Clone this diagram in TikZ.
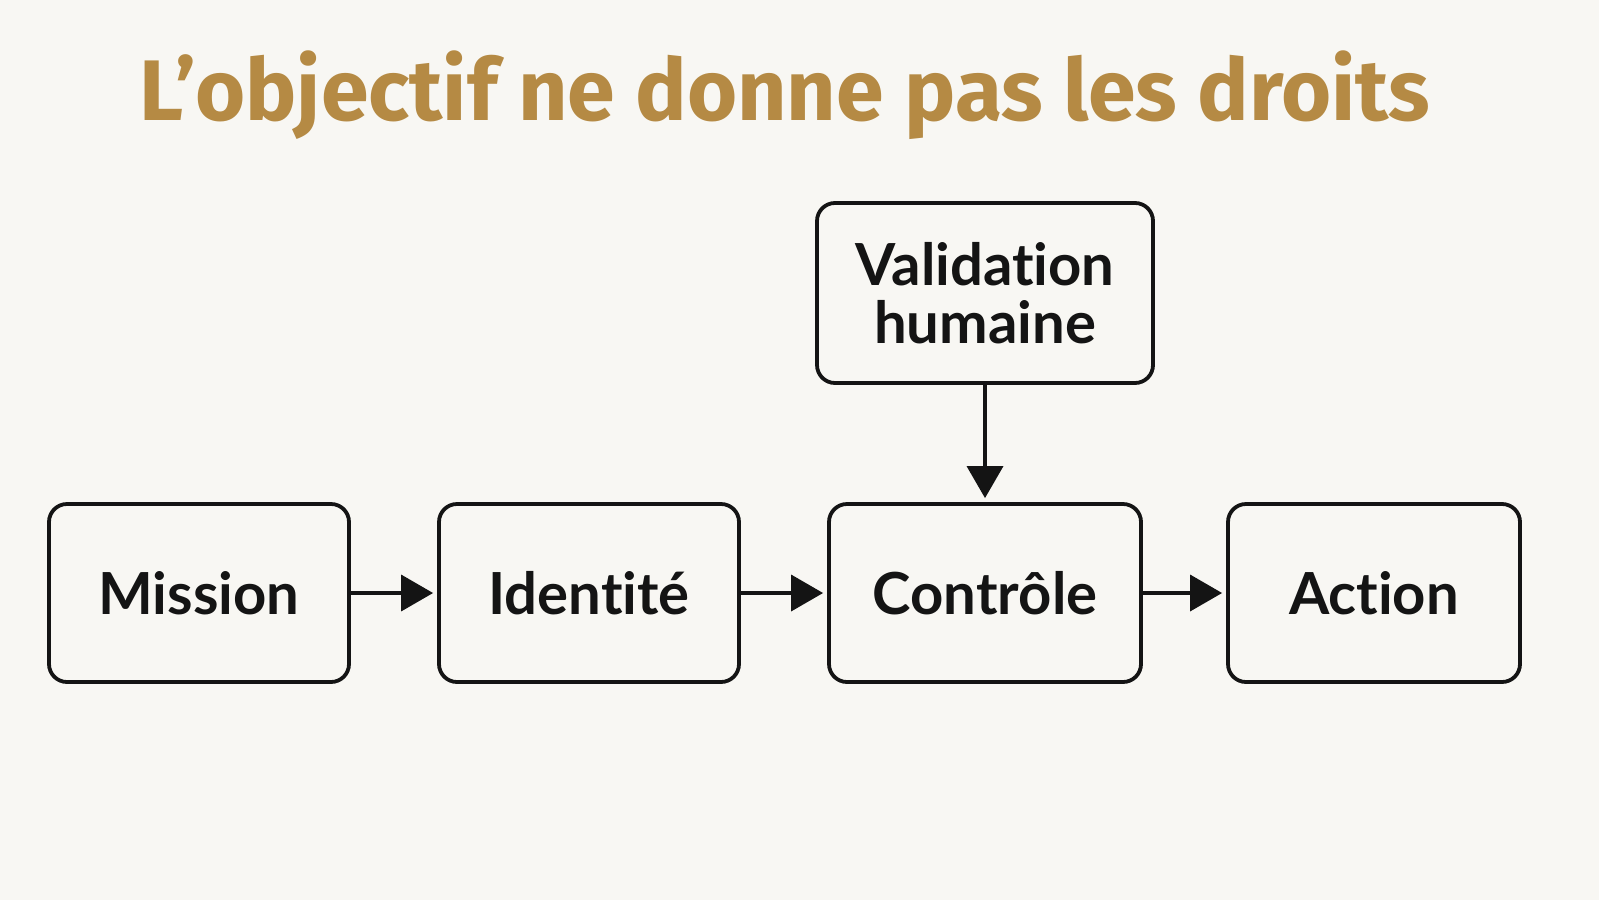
\documentclass[tikz,border=0pt]{standalone}
\usepackage{fontspec}
\setmainfont[Ligatures=NoCommon]{Lato}
\newfontfamily\titlefont[Ligatures=NoCommon]{Fira Sans}
\usetikzlibrary{arrows.meta}
\definecolor{bgcol}{HTML}{F8F7F3}
\definecolor{titlecol}{HTML}{B58A44}
\definecolor{inkcol}{HTML}{141414}

\tikzset{
  etape/.style={draw=inkcol,line width=1.9pt,rounded corners=9pt,fill=bgcol,
    inner sep=0,align=center,text=inkcol,font=\fontsize{29}{29}\selectfont\bfseries},
  fleche/.style={draw=inkcol,line width=1.8pt,-{Triangle[length=16pt,width=18pt]},shorten >=2pt}
}

\begin{document}
\begin{tikzpicture}[x=0.5pt,y=-0.5pt]
\fill[bgcol] (0,0) rectangle (1599,900);
\useasboundingbox (0,0) rectangle (1599,900);
\node[text=titlecol,font=\titlefont\fontsize{43}{45}\selectfont\bfseries] (titre) at (785,95) {L’objectif ne donne pas les droits};
\node[etape,minimum width=150pt,minimum height=89pt] (mission) at (199,593) {Mission};
\node[etape,minimum width=150pt,minimum height=89pt] (identite) at (589,593) {Identité};
\node[etape,minimum width=156pt,minimum height=89pt] (controle) at (985,593) {Contrôle};
\node[etape,minimum width=146pt,minimum height=89pt] (action) at (1374,593) {Action};
\node[etape,minimum width=168pt,minimum height=90pt] (validation) at (985,293) {Validation\\humaine};
\draw[fleche] (mission) -- (identite);
\draw[fleche] (identite) -- (controle);
\draw[fleche] (controle) -- (action);
\draw[fleche] (validation) -- (controle);
\end{tikzpicture}
\end{document}
